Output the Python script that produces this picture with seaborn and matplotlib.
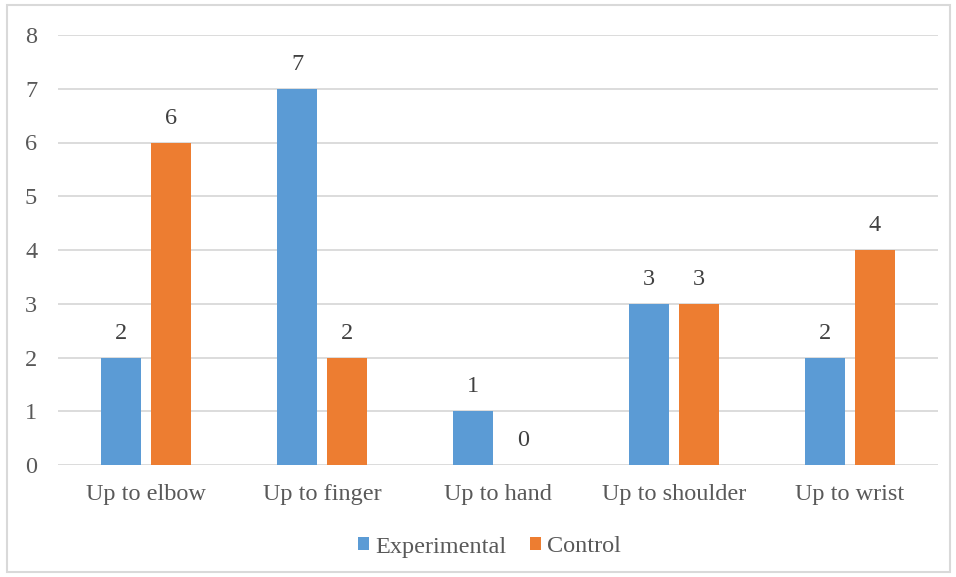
import matplotlib
matplotlib.use("Agg")
import matplotlib.pyplot as plt
import seaborn as sns
import pandas as pd
from matplotlib.patches import Rectangle

categories = ["Up to elbow", "Up to finger", "Up to hand", "Up to shoulder", "Up to wrist"]
experimental = [2, 7, 1, 3, 2]
control = [6, 2, 0, 3, 4]
series_names = ["Experimental", "Control"]
y_ticks = [0, 1, 2, 3, 4, 5, 6, 7, 8]

colors = {"Experimental": "#5B9BD5", "Control": "#ED7D31"}
text_color = "#595959"
grid_color = "#D9D9D9"

df = pd.DataFrame({
    "category": categories * 2,
    "series": [series_names[0]] * len(categories) + [series_names[1]] * len(categories),
    "value": experimental + control,
})

sns.set_theme(style="white")
plt.rcParams["font.family"] = ["Liberation Serif", "DejaVu Serif"]

fig = plt.figure(figsize=(9.56, 5.77), dpi=100)
ax = fig.add_axes([58 / 956, 1 - 465 / 577, 880 / 956, 430 / 577])

sns.barplot(data=df, x="category", y="value", hue="series", order=categories,
            hue_order=series_names, palette=colors, width=0.568, gap=0.2,
            saturation=1, ax=ax, legend=True, errorbar=None, linewidth=0)

ax.set_ylim(0, 8)
ax.set_xlim(-0.5, len(categories) - 0.5)
ax.set_yticks(y_ticks)
ax.set_yticklabels([str(t) for t in y_ticks])
ax.yaxis.grid(True, color=grid_color, linewidth=1.3)
ax.set_axisbelow(True)
for s in ax.spines.values():
    s.set_visible(False)
ax.tick_params(axis="y", length=0, pad=15, labelsize=17.5, labelcolor=text_color)
ax.tick_params(axis="x", length=0, pad=14, labelsize=17.5, labelcolor=text_color)
ax.set_xlabel("")
ax.set_ylabel("")

for container in ax.containers:
    ax.bar_label(container, fmt="%g", padding=10, fontsize=17.5, color="#404040")

handles, labels = ax.get_legend_handles_labels()
ax.legend(handles, labels, loc="center", bbox_to_anchor=(0.512, (577 - 547) / 577),
          bbox_transform=fig.transFigure, ncol=2, frameon=False, fontsize=17.5,
          handlelength=0.45, handleheight=0.45, handletextpad=0.25, columnspacing=1.0,
          labelcolor=text_color)

fig.patches.append(Rectangle((7 / 956, 5 / 577), 943 / 956, 567 / 577,
                             transform=fig.transFigure, fill=False,
                             edgecolor=grid_color, linewidth=1.5))

fig.savefig("out.png", dpi=100)
